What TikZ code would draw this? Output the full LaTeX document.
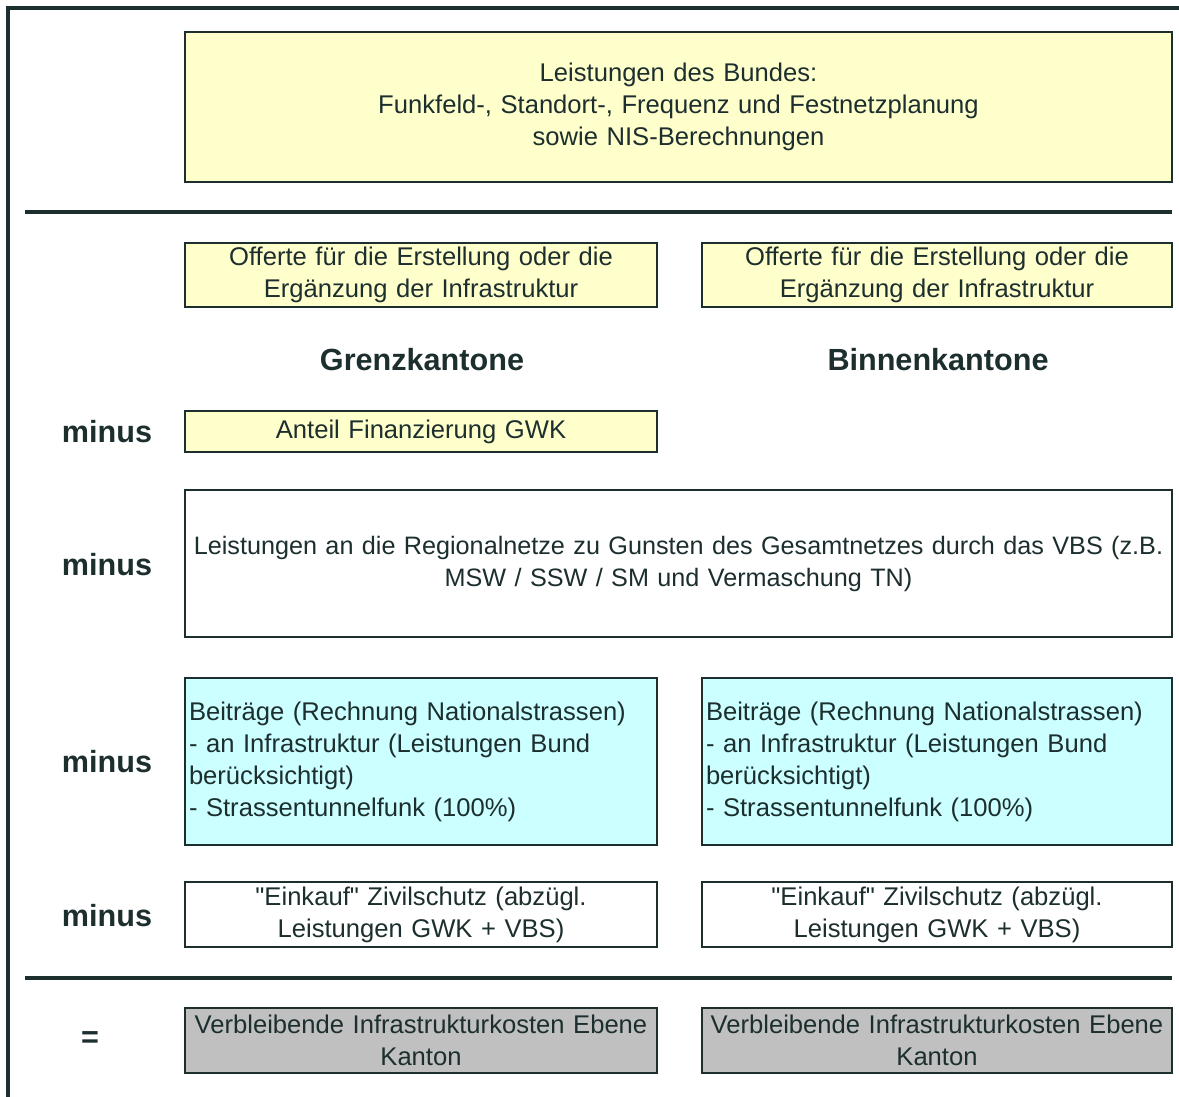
\documentclass[tikz,border=0pt]{standalone}
\usepackage{fontspec}
\setmainfont{Liberation Sans}
\usepackage{tikz}

\definecolor{gelb}{HTML}{FFFFCC}
\definecolor{tuerkis}{HTML}{CCFFFF}
\definecolor{grau}{HTML}{C0C0C0}
\definecolor{tinte}{HTML}{1C2E2E}

\tikzset{
  box/.style={draw=tinte, line width=1.4pt, inner xsep=2pt, inner ysep=1pt, align=center, text=tinte,
    font=\fontsize{12.8}{16}\selectfont},
  links/.style={box, text width=232pt, minimum width=236pt},
  rechts/.style={box, text width=231pt, minimum width=235pt},
  breit/.style={box, text width=489.5pt, minimum width=493.5pt},
  kopf/.style={text=tinte, font=\fontsize{15.3}{18}\selectfont\bfseries},
  regel/.style={draw=tinte, line width=2pt}
}

\begin{document}
\begin{tikzpicture}[x=0.5pt, y=-0.5pt]
    \useasboundingbox (0,0) rectangle (1179,1097);

    % Rahmen (rechts und unten abgeschnitten)
    \draw[tinte, line width=1.7pt] (8,1097) -- (8,8) -- (1179,8);

    \node[breit, fill=gelb, minimum height=75pt] (bund) at (678.5,107)
        {Leistungen des Bundes:\\ Funkfeld-, Standort-, Frequenz und Festnetzplanung\\ sowie NIS-Berechnungen};

    \draw[regel] (25,212) -- (1172,212);

    \node[links, fill=gelb, minimum height=32pt] (offerteG) at (421,275)
        {Offerte f\"ur die Erstellung oder die\\ Erg\"anzung der Infrastruktur};
    \node[rechts, fill=gelb, minimum height=32pt] (offerteB) at (937,275)
        {Offerte f\"ur die Erstellung oder die\\ Erg\"anzung der Infrastruktur};

    \node[kopf] (grenz) at (422,360) {Grenzkantone};
    \node[kopf] (binnen) at (938,360) {Binnenkantone};

    \foreach \yval/\zname in {432/m1, 565/m2, 762/m3, 916/m4}
        \node[kopf] (\zname) at (107,\yval) {minus};
    \node[kopf] (gleich) at (90,1040) {=};

    \node[links, fill=gelb, minimum height=20.5pt] (gwk) at (421,431.5)
        {Anteil Finanzierung GWK};

    \node[breit, fill=white, minimum height=73.5pt, font=\fontsize{12.6}{16}\selectfont] (vbs) at (678.5,563.5)
        {\makebox[\linewidth][c]{Leistungen an die Regionalnetze zu Gunsten des Gesamtnetzes durch das VBS (z.B.}\\ MSW / SSW / SM und Vermaschung TN)};

    \node[links, fill=tuerkis, align=left, minimum height=83.5pt] (beitragG) at (421,761.5)
        {Beitr\"age (Rechnung Nationalstrassen)\\ - an Infrastruktur (Leistungen Bund\\ ber\"ucksichtigt)\\ - Strassentunnelfunk (100\%)};
    \node[rechts, fill=tuerkis, align=left, minimum height=83.5pt] (beitragB) at (937,761.5)
        {Beitr\"age (Rechnung Nationalstrassen)\\ - an Infrastruktur (Leistungen Bund\\ ber\"ucksichtigt)\\ - Strassentunnelfunk (100\%)};

    \node[links, fill=white, minimum height=32.5pt] (zivilG) at (421,914.5)
        {\textquotedbl Einkauf\textquotedbl{} Zivilschutz (abz\"ugl.\\ Leistungen GWK + VBS)};
    \node[rechts, fill=white, minimum height=32.5pt] (zivilB) at (937,914.5)
        {\textquotedbl Einkauf\textquotedbl{} Zivilschutz (abz\"ugl.\\ Leistungen GWK + VBS)};

    \draw[regel] (25,978) -- (1172,978);

    \node[links, fill=grau, minimum height=32.5pt] (restG) at (421,1040.5)
        {Verbleibende Infrastrukturkosten Ebene\\ Kanton};
    \node[rechts, fill=grau, minimum height=32.5pt] (restB) at (937,1040.5)
        {Verbleibende Infrastrukturkosten Ebene\\ Kanton};

\end{tikzpicture}
\end{document}
